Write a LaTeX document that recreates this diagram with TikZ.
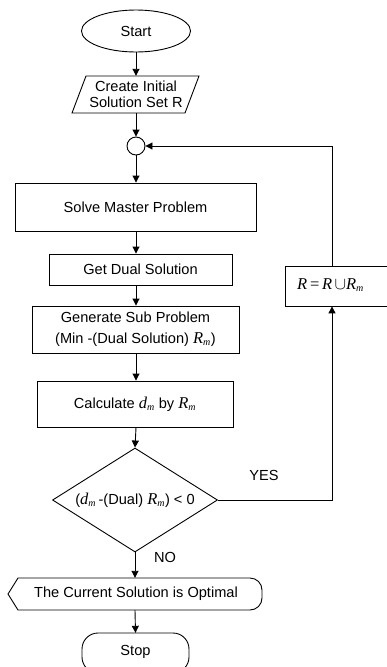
\documentclass[tikz,border=0pt]{standalone}
\usepackage{fontspec}
\setmainfont{Liberation Sans}
\newfontfamily\tms{Liberation Serif}
\usetikzlibrary{arrows.meta,shapes.geometric}
\newcommand\vR{{\fontsize{16.5}{18}\tms\itshape R}}
\newcommand\vd{{\fontsize{16.5}{18}\tms\itshape d}}
\newcommand\subm{\textsubscript{\fontsize{10}{11}\tms\itshape m}}
\begin{document}
\begin{tikzpicture}[x=1pt,y=-1pt,
  every node/.style={font=\fontsize{14.6}{16.5}\selectfont},
  lw/.style={line width=0.9pt},
  arr/.style={lw,-{Triangle[length=7pt,width=7pt]}},
  boxnode/.style={draw,lw,rectangle,inner sep=0pt},
  plain/.style={inner sep=0pt}]
\useasboundingbox (0,0) rectangle (387,667);
\clip (0,0) rectangle (387,667);
% nodes
\node[draw,lw,ellipse,minimum width=109pt,minimum height=42pt,inner sep=0pt] (start) at (136,31) {Start};
\node[plain,minimum width=113pt,minimum height=37pt,align=center] (create) at (136,94.5) {Create Initial\\Solution Set R};
\draw[lw] (86,76) -- (199,76) -- (185,113) -- (72,113) -- cycle;
\node[draw,lw,circle,minimum size=18pt,inner sep=0pt] (circ) at (136,146) {};
\node[boxnode,minimum width=241pt,minimum height=48pt] (solve) at (135.5,207) {Solve Master Problem};
\node[boxnode,minimum width=183pt,minimum height=31pt] (dual) at (140.5,269.5) {Get Dual Solution};
\node[boxnode,minimum width=207pt,minimum height=47pt,align=center,font=\fontsize{14.6}{21}\selectfont] (gen) at (135.5,329.5) {Generate Sub Problem\\(Min -(Dual Solution) \vR\subm)};
\node[boxnode,minimum width=196pt,minimum height=46pt] (calc) at (135,404) {Calculate \vd\subm\ by \vR\subm};
\node[draw,lw,diamond,aspect=1.59,minimum width=165pt,minimum height=104pt,inner sep=0pt] (dec) at (135,500) {};
\node[plain] (dectext) at (135,500) {(\vd\subm\,-(Dual) \vR\subm) < 0};
\node[plain,minimum width=254pt,minimum height=32pt] (cur) at (136,594) {The Current Solution is Optimal};
\draw[lw] (8,594) -- (18,578) -- (250,578) arc[start angle=-90,end angle=0,radius=12] -- (262,598) arc[start angle=0,end angle=90,radius=12] -- (18,610) -- cycle;
\node[plain,minimum width=107pt,minimum height=40pt] (stop) at (135.5,653) {};
\draw[lw,rounded corners=16pt] (82,633) rectangle (189,673);
\node[plain] (stoptext) at (135.5,652) {Stop};
\node[boxnode,minimum width=107pt,minimum height=40pt,anchor=north west] (upd) at (285,265.5) {};
\node[plain,anchor=west] (updtext) at (297,285.5) {\vR{\fontsize{16.5}{18}\tms\,=\,}\vR\,{\fontsize{16.5}{18}\selectfont$\cup$}\vR\subm};
\node[plain] (yes) at (264,475) {YES};
\node[plain] (no) at (165,557) {NO};
\coordinate (upx) at (332,0);
% connectors
\draw[arr] (start.south) -- (create.north);
\draw[arr] (create.south) -- (circ.north);
\draw[arr] (circ.south) -- (circ.south |- solve.north);
\draw[arr] (circ.south |- solve.south) -- (circ.south |- dual.north);
\draw[arr] (circ.south |- dual.south) -- (circ.south |- gen.north);
\draw[arr] (circ.south |- gen.south) -- (circ.south |- calc.north);
\draw[arr] (circ.south |- calc.south) -- (dec.north);
\draw[arr] (dec.south) -- (dec.south |- cur.north);
\draw[arr] (dec.south |- cur.south) -- (stop.north);
\draw[arr] (dec.east) -- (upx |- dec.east) -- (upx |- upd.south);
\draw[arr] (upx |- upd.north) -- (upx |- circ.east) -- (circ.east);
\end{tikzpicture}
\end{document}
